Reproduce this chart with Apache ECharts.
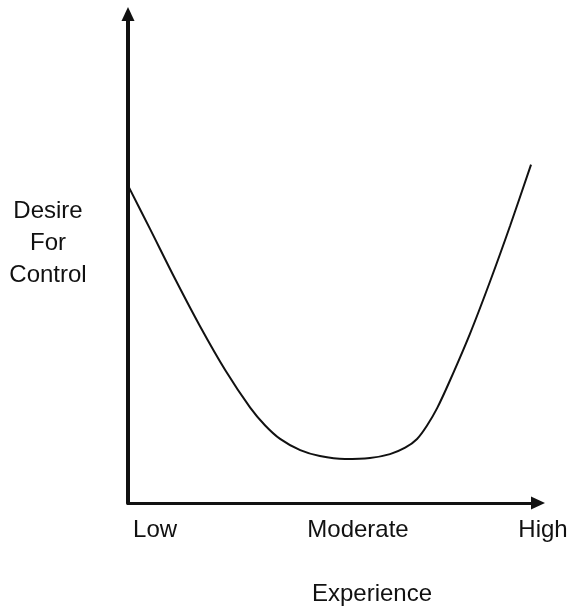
<!DOCTYPE html>
<html>
<head>
<meta charset="utf-8">
<script src="https://cdn.jsdelivr.net/npm/echarts@6/dist/echarts.min.js"></script>
<style>
  html, body { margin: 0; padding: 0; background: #fff; }
  #chart { width: 573px; height: 607px; }
</style>
</head>
<body>
<div id="chart"></div>
<script>
// experience (0-100) vs desire for control (0-100)
const experience = [0.2, 5.4, 11.5, 17.6, 23.7, 29.8, 33.4, 37.1, 42.0, 46.8, 52.9, 59.0, 63.9, 67.6, 70.5, 72.9, 75.4, 78.5, 83.4, 88.3, 93.2, 98.3]
const desire = [64.6, 56.0, 45.8, 36.1, 27.2, 19.5, 15.9, 13.1, 10.8, 9.6, 9.0, 9.2, 10.0, 11.3, 13.1, 15.8, 19.4, 25.0, 34.6, 45.3, 56.7, 69.2]

const tickValues = [6.6, 56.1, 100]
const tickLabels = ['Low', 'Moderate', 'High']

const font = 'Liberation Sans, Arial, Helvetica, sans-serif'
const ink = '#111'

const chart = echarts.init(document.getElementById('chart'))

chart.setOption({
  animation: false,
  backgroundColor: '#fff',
  grid: { left: 128, right: 35, top: 14, bottom: 104 },
  xAxis: {
    type: 'value',
    min: 0,
    max: 100,
    splitLine: { show: false },
    axisTick: { show: false },
    axisLine: {
      show: true,
      symbol: ['none', 'triangle'],
      symbolSize: [13, 14],
      lineStyle: { color: ink, width: 3 }
    },
    axisLabel: {
      customValues: tickValues,
      margin: 15,
      color: ink,
      fontFamily: font,
      fontSize: 24,
      formatter: function (v) {
        const i = tickValues.indexOf(v)
        if (i === 2) return '{h|' + tickLabels[i] + '}'
        return i >= 0 ? tickLabels[i] : ''
      },
      rich: {
        h: { padding: [0, 0, 0, 10], fontSize: 24, fontFamily: font, color: ink }
      }
    }
  },
  yAxis: {
    type: 'value',
    min: 0,
    max: 100,
    splitLine: { show: false },
    axisTick: { show: false },
    axisLabel: { show: false },
    axisLine: {
      show: true,
      symbol: ['none', 'triangle'],
      symbolSize: [13, 14],
      lineStyle: { color: ink, width: 4 }
    }
  },
  graphic: [
    {
      type: 'text',
      x: 48,
      y: 243,
      style: {
        text: 'Desire\nFor\nControl',
        align: 'center',
        verticalAlign: 'middle',
        font: '24px ' + font,
        lineHeight: 32,
        fill: ink
      }
    },
    {
      type: 'text',
      x: 372,
      y: 594,
      style: {
        text: 'Experience',
        align: 'center',
        verticalAlign: 'middle',
        font: '24px ' + font,
        fill: ink
      }
    }
  ],
  series: [
    {
      type: 'line',
      data: experience.map((x, i) => [x, desire[i]]),
      smooth: 0.3,
      showSymbol: false,
      lineStyle: { color: ink, width: 2 }
    }
  ]
})
</script>
</body>
</html>
